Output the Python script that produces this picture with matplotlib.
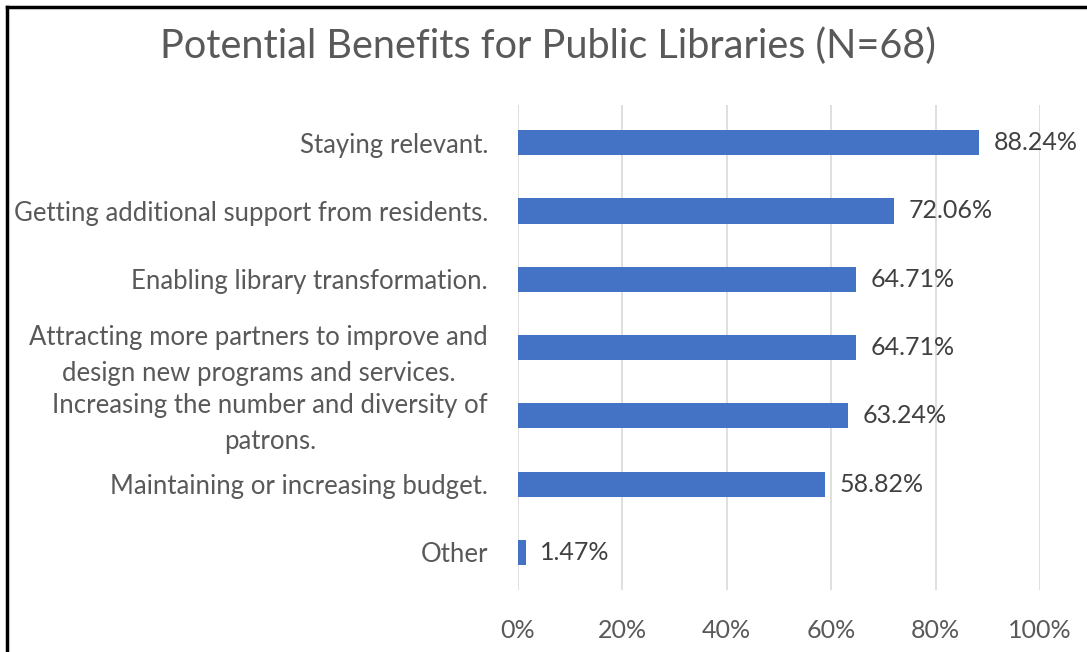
import matplotlib.pyplot as plt
from matplotlib.lines import Line2D
from matplotlib.ticker import PercentFormatter

# dados da pesquisa
categorias = [
    'Staying relevant.',
    'Getting additional support from residents.',
    'Enabling library transformation.',
    'Attracting more partners to improve and\ndesign new programs and services.',
    'Increasing the number and diversity of\npatrons.',
    'Maintaining or increasing budget.',
    'Other',
]
valores = [88.24, 72.06, 64.71, 64.71, 63.24, 58.82, 1.47]
ticks_x = [0, 20, 40, 60, 80, 100]

plt.rcParams['font.family'] = ['Lato', 'DejaVu Sans']

fig = plt.figure(figsize=(10.87, 6.52), dpi=100)
ax = fig.add_axes([0.4765, 0.095, 0.4803, 0.744])

pos = range(len(categorias))
ax.barh(pos, valores, height=0.37, color='#4472C4', zorder=3)

# rótulos de valor ao lado das barras
for i, v in enumerate(valores):
    ax.text(v + 2.8, i, f'{v:.2f}%', va='center', ha='left',
            fontsize=18, color='#404040', zorder=4)

ax.set_yticks(list(pos))
ax.set_yticklabels(categorias, fontsize=18.5, color='#595959')
for lbl in ax.get_yticklabels():
    lbl.set_multialignment('center')
    lbl.set_linespacing(1.55)
ax.set_ylim(6.55, -0.55)

ax.set_xlim(0, 100)
ax.set_xticks(ticks_x)
ax.xaxis.set_major_formatter(PercentFormatter(decimals=0))
ax.tick_params(axis='x', labelsize=18, labelcolor='#595959', length=0, pad=21)
ax.tick_params(axis='y', length=0, pad=21.5)

ax.grid(axis='x', color='#D9D9D9', linewidth=1.2, zorder=0)
for s in ax.spines.values():
    s.set_visible(False)

fig.suptitle('Potential Benefits for Public Libraries (N=68)', x=0.504, y=0.958,
             fontsize=28.5, color='#595959')

# moldura preta (esquerda e topo)
fig.add_artist(Line2D([0.006, 0.006], [0, 0.989], color='black', linewidth=2.5))
fig.add_artist(Line2D([0.006, 1], [0.989, 0.989], color='black', linewidth=2.5))

plt.savefig('out.png', dpi=100)
